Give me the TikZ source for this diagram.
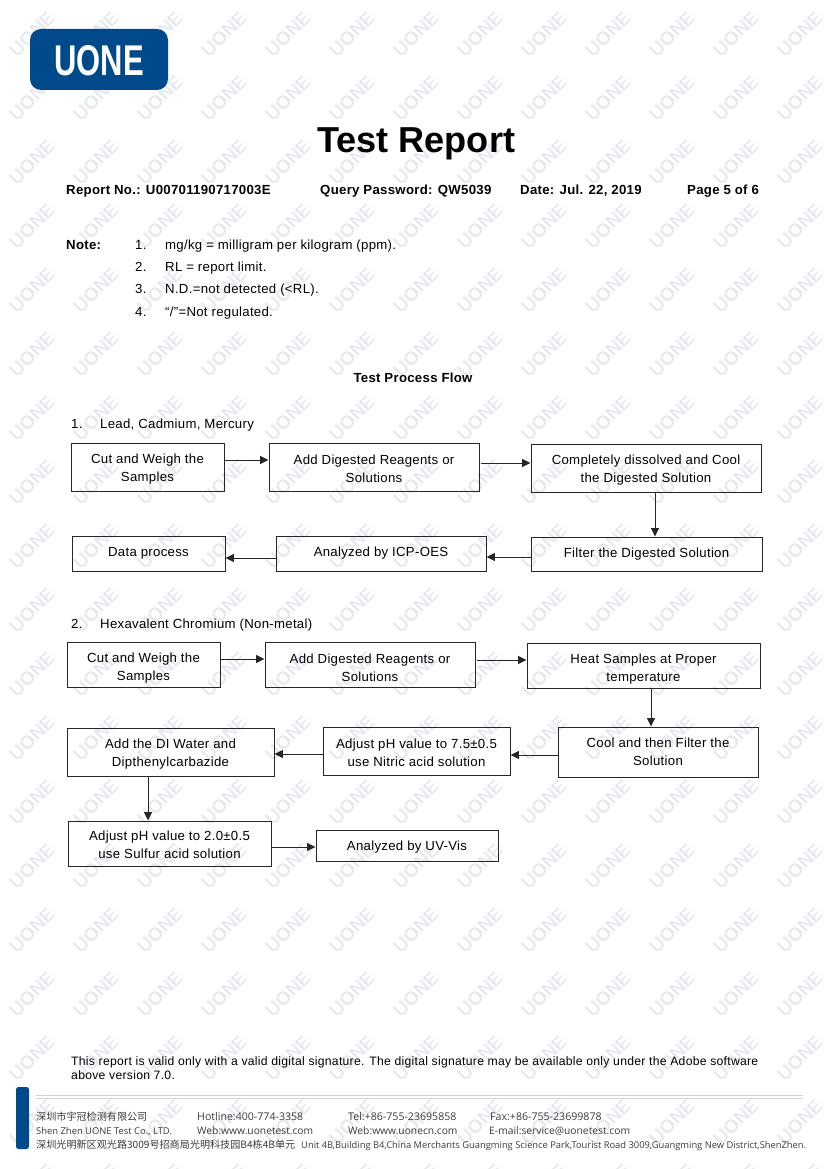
\documentclass[tikz,border=0pt]{standalone}
\usepackage{fontspec}
\usetikzlibrary{arrows.meta}
\setmainfont{Liberation Sans}
\newfontfamily\bodyFont[LetterSpace=2.2]{Liberation Sans}
\newfontfamily\footFont{Open Sans}
\newfontfamily\cjkFont{Noto Sans CJK SC}
\definecolor{uoneBlue}{HTML}{004A8C}
\definecolor{markGray}{HTML}{E6EAF2}
\definecolor{footGray}{HTML}{3A3A3A}
\definecolor{ruleGray}{HTML}{C9D5DC}
\newcommand{\lowLine}{\rule{0pt}{13pt}}

\begin{document}
\begin{tikzpicture}[x=1pt,y=-1pt]
   \tikzstyle{every node}=[font=\fontsize{13.2}{18}\selectfont\bodyFont]
   \tikzstyle{plainText}=[anchor=base west,inner sep=0pt]
   \tikzstyle{boldText}=[anchor=base west,inner sep=0pt,font=\fontsize{13.2}{18}\selectfont\bodyFont\bfseries]
   \tikzstyle{footText}=[anchor=base west,inner sep=0pt,text=footGray,font=\fontsize{10.6}{13}\selectfont\footFont]
   \tikzstyle{processBox}=[draw=black!85,line width=0.95pt,align=center,inner sep=0pt]
   \tikzstyle{flowLine}=[draw=black!85,line width=0.95pt,-{Triangle[length=8.5pt,width=8pt]}]
   \useasboundingbox (0,0) rectangle (827,1169);

% watermark
   \foreach \col in {0,...,12} {
      \foreach \row in {0,...,18} {
         \node[rotate=45,text=markGray,font=\fontsize{19}{19}\selectfont\rmfamily\bfseries]
            (mark\col-\row) at (32+64*\col,34+64*\row) {UONE};
      }
   }

% logo and heading
   \node[fill=uoneBlue,rounded corners=11pt,minimum width=138pt,minimum height=61pt,inner sep=0pt] (logoPlate) at (99,59.5) {};
   \node[text=white,xscale=.72,transform shape,font=\fontsize{43}{43}\selectfont\rmfamily\bfseries] (logoText) at (99,60.5) {UONE};
   \node[plainText,font=\fontsize{36.1}{36}\selectfont\rmfamily\bfseries] (title) at (317,153) {Test Report};
   \node[boldText] (reportNo) at (66,195) {Report No.: U00701190717003E};
   \node[boldText] (password) at (320,195) {Query Password: QW5039};
   \node[boldText] (reportDate) at (520,195) {Date: Jul. 22, 2019};
   \node[boldText] (pageNo) at (687,195) {Page 5 of 6};

% notes
   \node[boldText] (noteHead) at (66,249) {Note:};
   \node[plainText] (noteNumA) at (135,249) {1.};
   \node[plainText] (noteA) at (165,249) {mg/kg = milligram per kilogram (ppm).};
   \node[plainText] (noteNumB) at (135,271) {2.};
   \node[plainText] (noteB) at (165,271) {RL = report limit.};
   \node[plainText] (noteNumC) at (135,293) {3.};
   \node[plainText] (noteC) at (165,293) {N.D.=not detected (<RL).};
   \node[plainText] (noteNumD) at (135,316) {4.};
   \node[plainText] (noteD) at (165,316) {“/”=Not regulated.};

   \node[boldText,anchor=base] (flowHead) at (413,382) {Test Process Flow};

% Lead, Cadmium, Mercury
   \node[plainText] (leadNum) at (71,428) {1.};
   \node[plainText] (leadHead) at (100,428) {Lead, Cadmium, Mercury};
   \node[processBox,minimum width=153pt,minimum height=48pt] (leadCut) at (147.5,467) {\lowLine Cut and Weigh the\\Samples};
   \node[processBox,minimum width=210pt,minimum height=48pt] (leadAdd) at (374,467) {\lowLine Add Digested Reagents or\\Solutions};
   \node[processBox,minimum width=230pt,minimum height=48pt] (leadCool) at (646,468) {\lowLine Completely dissolved and Cool\\the Digested Solution};
   \node[processBox,minimum width=231pt,minimum height=34pt] (leadFilter) at (646.5,554) {Filter the Digested Solution};
   \node[processBox,minimum width=210pt,minimum height=35pt] (leadIcp) at (381,553.5) {Analyzed by ICP-OES};
   \node[processBox,minimum width=153pt,minimum height=35pt] (leadData) at (148.5,553.5) {Data process};
   \draw[flowLine] ([yshift=7pt]leadCut.east) -- ([yshift=7pt]leadCut.east -| leadAdd.west);
   \draw[flowLine] ([xshift=2pt,yshift=4pt]leadAdd.east) -- ([yshift=4pt]leadAdd.east -| leadCool.west);
   \draw[flowLine] ([xshift=9pt]leadCool.south) -- ([xshift=9pt]leadCool.south |- leadFilter.north);
   \draw[flowLine] ([yshift=-3pt]leadFilter.west) -- ([yshift=-3pt]leadFilter.west -| leadIcp.east);
   \draw[flowLine] ([yshift=-4.5pt]leadIcp.west) -- ([yshift=-4.5pt]leadIcp.west -| leadData.east);

% Hexavalent Chromium
   \node[plainText] (hexNum) at (71,628) {2.};
   \node[plainText] (hexHead) at (100,628) {Hexavalent Chromium (Non-metal)};
   \node[processBox,minimum width=153pt,minimum height=45pt] (hexCut) at (143.5,664.5) {\rule{0pt}{16pt}Cut and Weigh the\\Samples};
   \node[processBox,minimum width=210pt,minimum height=45pt] (hexAdd) at (370,664.5) {\rule{0pt}{16pt}Add Digested Reagents or\\Solutions};
   \node[processBox,minimum width=233pt,minimum height=45pt] (hexHeat) at (643.5,665.5) {\rule{0pt}{16pt}Heat Samples at Proper\\temperature};
   \node[processBox,minimum width=200pt,minimum height=50pt] (hexFilter) at (658,752) {Cool and then Filter the\\Solution};
   \node[processBox,minimum width=187pt,minimum height=48pt] (hexNitric) at (416.5,751) {\lowLine Adjust pH value to 7.5±0.5\\use Nitric acid solution};
   \node[processBox,minimum width=207pt,minimum height=48pt] (hexWater) at (170.5,752) {\lowLine Add the DI Water and\\Dipthenylcarbazide};
   \node[processBox,minimum width=203pt,minimum height=45pt] (hexSulfur) at (169.5,843.5) {\lowLine Adjust pH value to 2.0±0.5\\use Sulfur acid solution};
   \node[processBox,minimum width=182pt,minimum height=31pt] (hexUv) at (407,845.5) {\lowLine Analyzed by UV-Vis};
   \draw[flowLine] ([yshift=5.5pt]hexCut.east) -- ([yshift=5.5pt]hexCut.east -| hexAdd.west);
   \draw[flowLine] ([xshift=2pt,yshift=4.5pt]hexAdd.east) -- ([yshift=4.5pt]hexAdd.east -| hexHeat.west);
   \draw[flowLine] ([xshift=7.5pt]hexHeat.south) -- ([xshift=7.5pt]hexHeat.south |- hexFilter.north);
   \draw[flowLine] ([yshift=-3pt]hexFilter.west) -- ([yshift=-3pt]hexFilter.west -| hexNitric.east);
   \draw[flowLine] ([yshift=-3pt]hexNitric.west) -- ([yshift=-3pt]hexNitric.west -| hexWater.east);
   \draw[flowLine] ([xshift=-22.5pt]hexWater.south) -- ([xshift=-22.5pt]hexWater.south |- hexSulfur.north);
   \draw[flowLine] ([yshift=-3.5pt]hexSulfur.east) -- ([yshift=-3.5pt]hexSulfur.east -| hexUv.west);

% signature remark
   \node[plainText,font=\fontsize{12.2}{14}\selectfont\bodyFont] (signA) at (71,1065) {This report is valid only with a valid digital signature. The digital signature may be available only under the Adobe software};
   \node[plainText,font=\fontsize{12.2}{14}\selectfont\bodyFont] (signB) at (71,1079) {above version 7.0.};

% footer
   \node[fill=uoneBlue,rounded corners=2.5pt,minimum width=13pt,minimum height=62pt,inner sep=0pt] (footBar) at (22.5,1118) {};
   \coordinate (ruleLeft) at (36,1095);
   \coordinate (ruleRight) at (803,1095);
   \draw[ruleGray,line width=0.8pt] (ruleLeft) -- (ruleRight);
   \draw[ruleGray,line width=0.8pt] ([yshift=-3.5pt]ruleLeft) -- ([yshift=-3.5pt]ruleRight);
   \node[footText,font=\fontsize{10.1}{13}\selectfont\cjkFont] (footName) at (36,1120) {深圳市宇冠检测有限公司};
   \node[footText] (footHot) at (197,1120) {Hotline:400-774-3358};
   \node[footText] (footTel) at (348,1120) {Tel:+86-755-23695858};
   \node[footText] (footFax) at (490,1120) {Fax:+86-755-23699878};
   \node[footText,font=\fontsize{9.4}{13}\selectfont\footFont] (footEn) at (36,1134) {Shen Zhen UONE Test Co., LTD.};
   \node[footText,font=\fontsize{10.25}{13}\selectfont\footFont] (footWeb) at (197,1134) {Web:www.uonetest.com};
   \node[footText,font=\fontsize{10.25}{13}\selectfont\footFont] (footWebCn) at (348,1134) {Web:www.uonecn.com};
   \node[footText,font=\fontsize{10.3}{13}\selectfont\footFont] (footMail) at (489,1134) {E-mail:service@uonetest.com};
   \node[footText,font=\fontsize{10.1}{13}\selectfont\cjkFont] (footAddr) at (36,1148) {深圳光明新区观光路3009号招商局光明科技园B4栋4B单元};
   \node[footText,font=\fontsize{9.35}{13}\selectfont\footFont] (footAddrEn) at (301,1148) {Unit 4B,Building B4,China Merchants Guangming Science Park,Tourist Road 3009,Guangming New District,ShenZhen.};
\end{tikzpicture}
\end{document}
